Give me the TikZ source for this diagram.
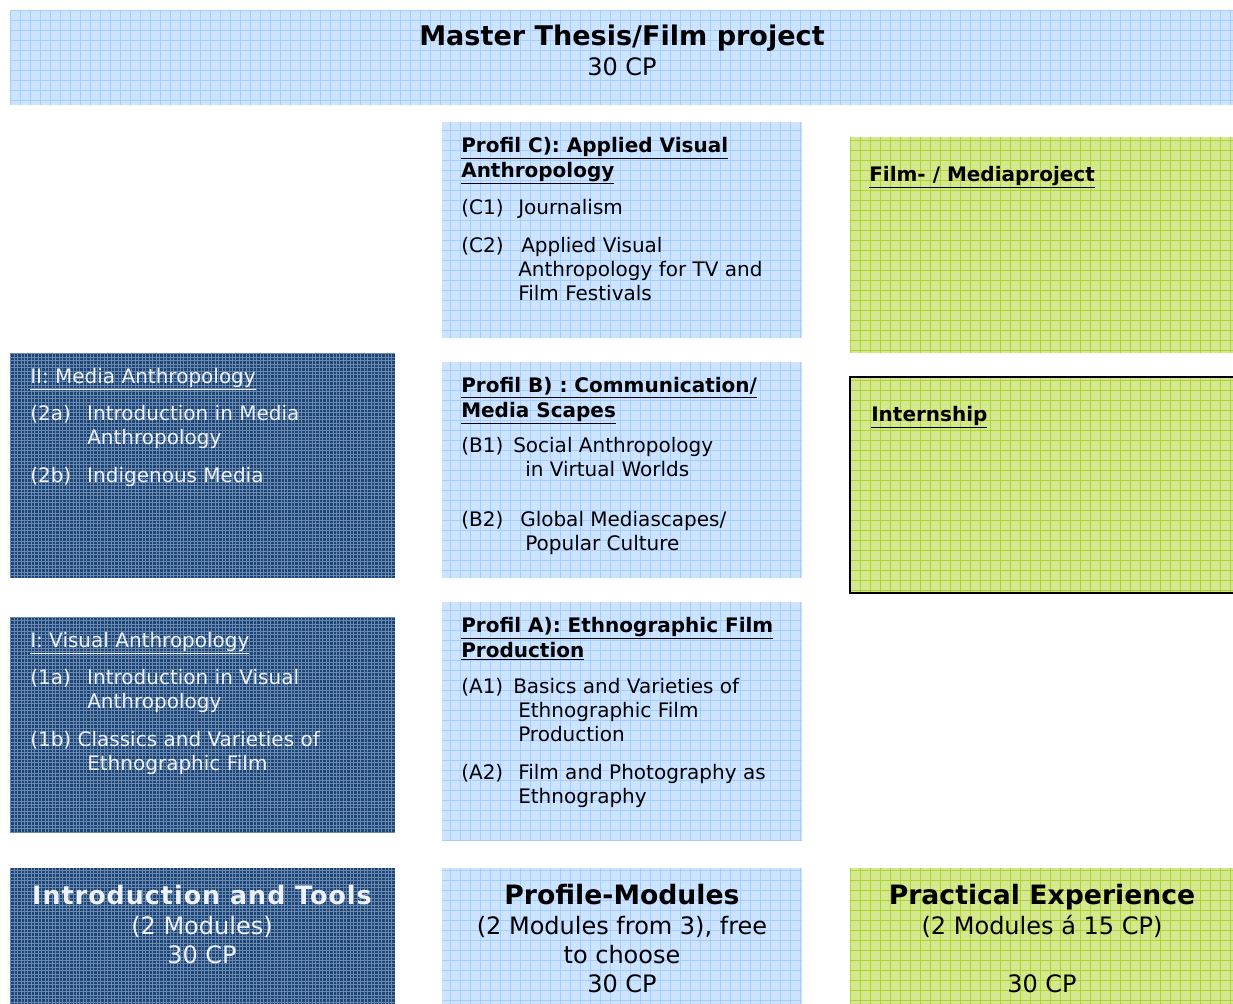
\documentclass[tikz,border=0pt]{standalone}
\usepackage{fontspec}
\setmainfont{DejaVu Sans}
\usepackage{tikz}

\definecolor{paleblue}{HTML}{CCE4FF}
\definecolor{palebluegrid}{HTML}{A3CEFF}
\definecolor{navy}{HTML}{1D4576}
\definecolor{navygrid}{HTML}{6A89B0}
\definecolor{lime}{HTML}{D5E890}
\definecolor{limegrid}{HTML}{ABD530}
\definecolor{offwhite}{HTML}{EEF2F8}

% label column of the module lists
\newcommand{\lbl}[2]{\makebox[#1][l]{#2}}

\tikzset{
  paleblock/.style={fill=paleblue, path picture={\draw[palebluegrid, line width=0.6pt, step=7.5pt] (path picture bounding box.south west) grid (path picture bounding box.north east);}},
  navyblock/.style={fill=navy, path picture={\draw[navygrid, line width=0.45pt, step=2.6pt] (path picture bounding box.south west) grid (path picture bounding box.north east);}},
  limeblock/.style={fill=lime, path picture={\draw[limegrid, line width=0.6pt, step=7.5pt] (path picture bounding box.south west) grid (path picture bounding box.north east);}},
  bodytxt/.style={anchor=north west, inner sep=0pt, align=left, font=\fontsize{15}{18}\selectfont},
  headtxt/.style={bodytxt, font=\bfseries\fontsize{15}{18.75}\selectfont},
  sumtxt/.style={anchor=base, inner sep=0pt, align=center, font=\fontsize{18}{21.75}\selectfont},
  sumhead/.style={anchor=base, inner sep=0pt, font=\bfseries\fontsize{20}{22}\selectfont},
}

\begin{document}
\begin{tikzpicture}[x=0.75pt,y=0.75pt,yscale=-1,xscale=1]
\useasboundingbox (0,0) rectangle (1233,1004);

%Shape: Rectangle [top]
\path[paleblock] (10,10) rectangle (1233,105);
%Shape: Rectangle [profile column]
\path[paleblock] (442,122) rectangle (802,338);
\path[paleblock] (442,362) rectangle (802,578);
\path[paleblock] (442,602) rectangle (802,840);
\path[paleblock] (442,868) rectangle (802,1010);
%Shape: Rectangle [intro column]
\path[navyblock] (10,353) rectangle (395,578);
\path[navyblock] (10,617) rectangle (395,833);
\path[navyblock] (10,868) rectangle (395,1010);
%Shape: Rectangle [practice column]
\path[limeblock] (850,137) rectangle (1240,353);
\path[limeblock, draw=black, line width=1.5pt] (850,377) rectangle (1240,593);
\path[limeblock] (850,868) rectangle (1240,1010);

% Text Node
\node[sumhead, font=\bfseries\fontsize{20.3}{22}\selectfont] (thesis) at (622,45) {Master Thesis/Film project};
\node[sumtxt] (thesiscp) at (622,75) {30 CP};

% Text Node
\node[headtxt] (profc) at (461,134.5) {\begin{tabular}{@{}l@{}}
\underline{Profil C): Applied Visual}\\
\underline{Anthropology}
\end{tabular}};
\node[bodytxt] (profcitems) at (461,197) {\begin{tabular}{@{}l@{}}
\lbl{42.75pt}{(C1)}Journalism\\[10.5pt]
\lbl{42.75pt}{(C2)}\hspace{2.25pt}Applied Visual\\
\lbl{42.75pt}{}Anthropology for TV and\\
\lbl{42.75pt}{}Film Festivals
\end{tabular}};

% Text Node
\node[headtxt] (profb) at (461,374.5) {\begin{tabular}{@{}l@{}}
\underline{Profil B) : Communication/}\\
\underline{Media Scapes}
\end{tabular}};
\node[bodytxt] (profbitems) at (461,435) {\begin{tabular}{@{}l@{}}
\lbl{39pt}{(B1)}Social Anthropology\\
\lbl{39pt}{}\hspace{9pt}in Virtual Worlds\\[20pt]
\lbl{39pt}{(B2)}\hspace{5.25pt}Global Mediascapes/\\
\lbl{39pt}{}\hspace{9pt}Popular Culture
\end{tabular}};

% Text Node
\node[headtxt] (profa) at (461,614.5) {\begin{tabular}{@{}l@{}}
\underline{Profil A): Ethnographic Film}\\
\underline{Production}
\end{tabular}};
\node[bodytxt] (profaitems) at (461,676) {\begin{tabular}{@{}l@{}}
\lbl{39pt}{(A1)}Basics and Varieties of\\
\lbl{39pt}{}\hspace{3.75pt}Ethnographic Film\\
\lbl{39pt}{}\hspace{3.75pt}Production\\[11pt]
\lbl{39pt}{(A2)}\hspace{3.75pt}Film and Photography as\\
\lbl{39pt}{}\hspace{3.75pt}Ethnography
\end{tabular}};

% Text Node
\node[bodytxt, text=offwhite] (media) at (30,366.2) {\begin{tabular}{@{}l@{}}
\underline{II: Media Anthropology}
\end{tabular}};
\node[bodytxt, text=offwhite] (mediaitems) at (30,403) {\begin{tabular}{@{}l@{}}
\lbl{42.75pt}{(2a)}Introduction in Media\\
\lbl{42.75pt}{}Anthropology\\[10.5pt]
\lbl{42.75pt}{(2b)}Indigenous Media
\end{tabular}};

% Text Node
\node[bodytxt, text=offwhite] (visual) at (30,630.2) {\begin{tabular}{@{}l@{}}
\underline{I: Visual Anthropology}
\end{tabular}};
\node[bodytxt, text=offwhite] (visualitems) at (30,667) {\begin{tabular}{@{}l@{}}
\lbl{42.75pt}{(1a)}Introduction in Visual\\
\lbl{42.75pt}{}Anthropology\\[10.5pt]
(1b) Classics and Varieties of\\
\lbl{42.75pt}{}Ethnographic Film
\end{tabular}};

% Text Node
\node[headtxt] (filmproj) at (869,163.5) {\begin{tabular}{@{}l@{}}\underline{Film- / Mediaproject}\end{tabular}};
\node[headtxt] (intern) at (871,403.5) {\begin{tabular}{@{}l@{}}\underline{Internship}\end{tabular}};

% Text Node
\node[sumhead, text=offwhite, font=\bfseries\fontsize{19}{22}\selectfont\addfontfeatures{LetterSpace=4}] (intro) at (202,904) {Introduction and Tools};
\node[sumtxt, text=offwhite] (introsub) at (202,963) {(2 Modules)\\30 CP};
\node[sumhead] (profile) at (622,904) {Profile-Modules};
\node[sumtxt] (profilesub) at (622,992) {(2 Modules from 3), free\\to choose\\30 CP};
\node[sumhead] (practice) at (1042,904) {Practical Experience};
\node[sumtxt] (practicesub) at (1042,992) {(2 Modules á 15 CP)\\[21.75pt]30 CP};

\end{tikzpicture}
\end{document}
